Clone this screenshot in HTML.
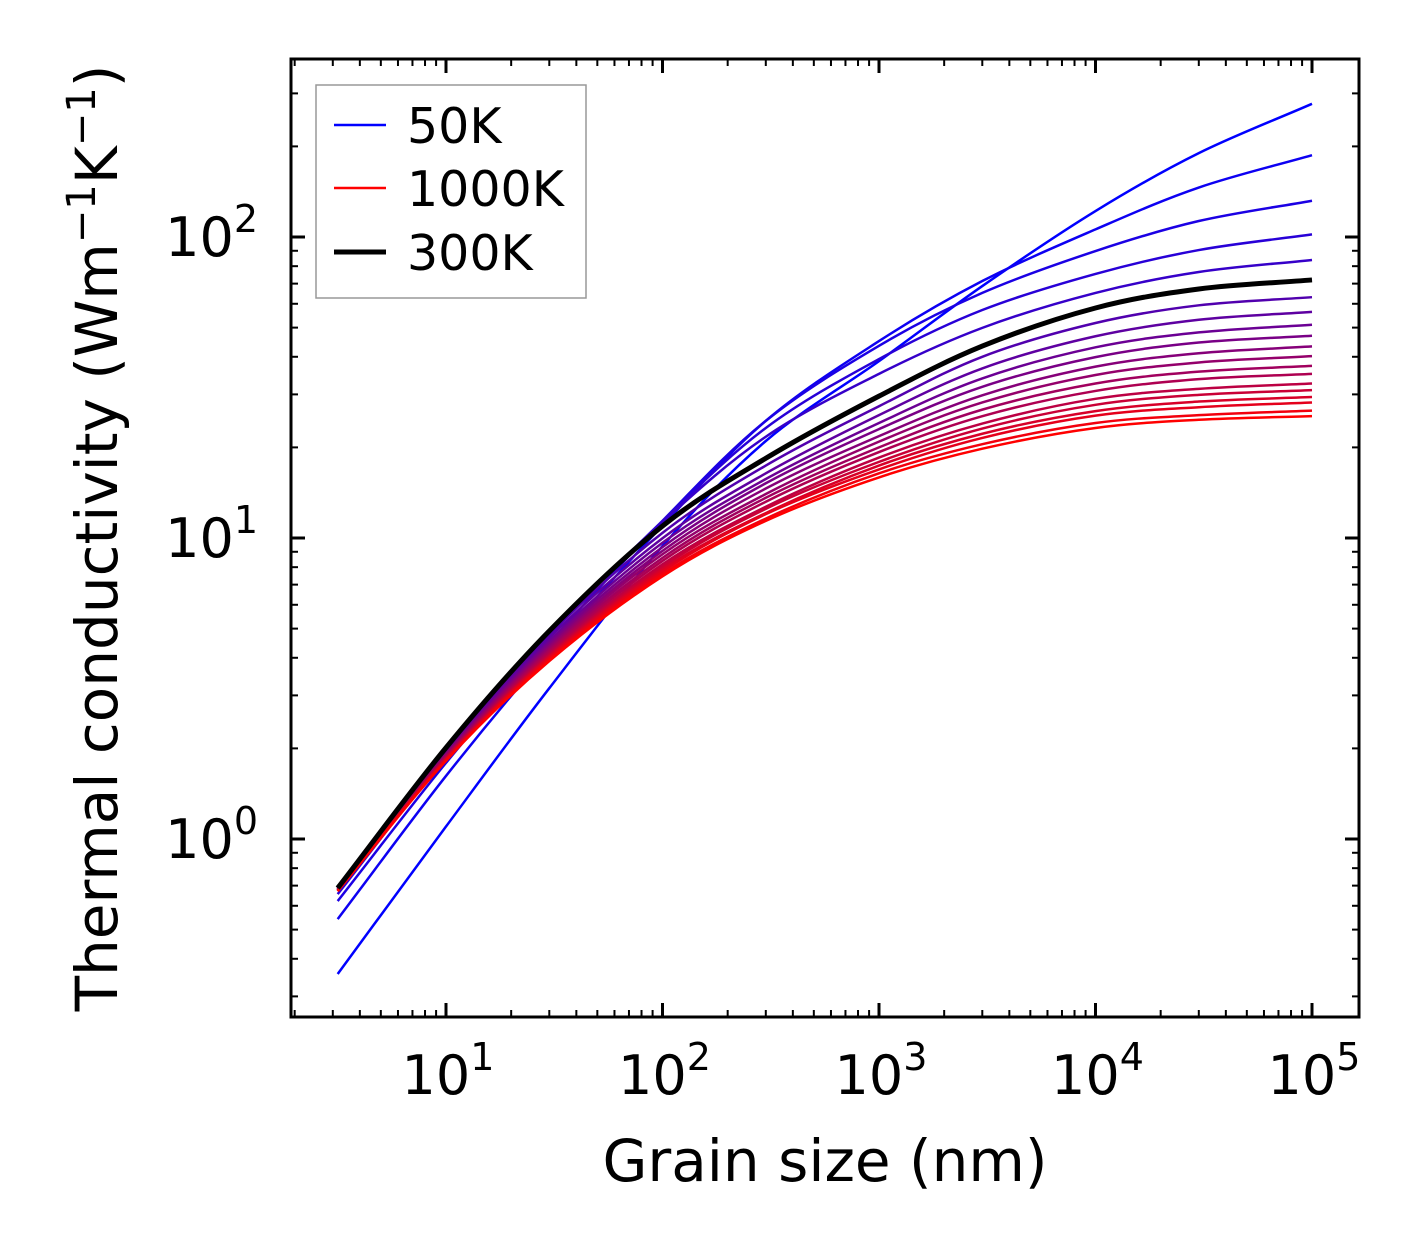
<!DOCTYPE html>
<html><head><meta charset="utf-8"><style>
html,body{margin:0;padding:0;background:#fff;}
svg{display:block;font-family:"DejaVu Sans","Liberation Sans",sans-serif;}
</style></head><body>
<svg id="chart" width="1421" height="1254" viewBox="0 0 1421 1254" xmlns="http://www.w3.org/2000/svg">
<rect x="0" y="0" width="1421" height="1254" fill="#fff"/>
<g id="curves"></g>
<g id="ticks"></g>
<rect x="291" y="59" width="1068" height="958" fill="none" stroke="#000" stroke-width="3"/>
<g id="labels" font-size="54"></g>
<text x="825" y="1181" font-size="58" text-anchor="middle">Grain size (nm)</text>
<text transform="translate(117,538) rotate(-90)" font-size="58" text-anchor="middle">Thermal conductivity (Wm<tspan dy="-22" font-size="40">−1</tspan><tspan dy="22">K</tspan><tspan dy="-22" font-size="40">−1</tspan><tspan dy="22">)</tspan></text>
<g>
<rect x="316" y="85" width="270" height="213" fill="#fff" stroke="#999" stroke-width="1.5"/>
<line x1="334" y1="125" x2="386" y2="125" stroke="rgb(0,0,255)" stroke-width="2.5"/>
<text x="407" y="143" font-size="49">50K</text>
<line x1="334" y1="188" x2="386" y2="188" stroke="rgb(255,0,0)" stroke-width="2.5"/>
<text x="407" y="206" font-size="49">1000K</text>
<line x1="334" y1="252" x2="386" y2="252" stroke="#000" stroke-width="5"/>
<text x="407" y="270" font-size="49">300K</text>
</g>
</svg>
<script>
const grainSizes = [3.16, 10, 30, 100, 300, 1000, 3000, 10000, 30000, 100000];
const temperatures = [50,100,150,200,250,300,350,400,450,500,550,600,650,700,750,800,850,900,950,1000];
const k50 = [0.356,1.10,3.17,9.40,21.0,38.7,68.7,122,190,277];
const k100 = [0.542,1.62,4.21,11.0,24.5,45.1,71.4,106,146,187];
const k150 = [0.622,1.79,4.48,11.4,24.5,43.5,65.2,89.8,113,132];
const k200 = [0.656,1.89,4.73,11.4,23.2,39.3,57.2,75.4,90.5,102];
const k250 = [0.677,1.96,4.83,11.3,21.7,35.1,49.9,65.2,76.5,83.9];
const k300 = [0.687,2.01,4.91,10.96,18.4,29.6,43.4,58.1,67.2,72.0];
const k350 = [0.685,1.98,4.77,10.4,17.4,27.4,40.0,51.8,59.3,63.1];
const k400 = [0.684,1.96,4.66,9.98,16.4,25.6,36.6,46.8,53.1,56.4];
const k450 = [0.682,1.94,4.55,9.64,15.7,24.1,33.9,43.0,48.2,51.1];
const k500 = [0.681,1.92,4.47,9.33,15.2,23.0,31.8,39.9,44.6,47.0];
const k550 = [0.679,1.91,4.39,9.06,14.6,21.8,29.8,37.1,41.1,43.3];
const k600 = [0.678,1.90,4.32,8.83,14.0,20.9,28.2,34.8,38.3,40.2];
const k650 = [0.678,1.88,4.25,8.59,13.6,20.0,26.7,32.6,35.7,37.3];
const k700 = [0.676,1.87,4.19,8.39,13.2,19.3,25.4,30.8,33.7,35.1];
const k750 = [0.675,1.86,4.12,8.18,12.7,18.5,24.0,29.0,31.3,32.6];
const k800 = [0.675,1.85,4.07,8.02,12.5,17.9,23.1,27.7,29.9,31.0];
const k850 = [0.673,1.84,4.03,7.87,12.1,17.4,22.2,26.4,28.4,29.4];
const k900 = [0.673,1.83,3.99,7.74,12.0,16.9,21.5,25.5,27.2,28.2];
const k950 = [0.671,1.82,3.94,7.59,11.6,16.4,20.5,24.1,25.6,26.5];
const k1000 = [0.671,1.82,3.90,7.46,11.4,15.9,19.8,23.2,24.7,25.4];
const series = [k50,k100,k150,k200,k250,k300,k350,k400,k450,k500,k550,k600,k650,k700,k750,k800,k850,k900,k950,k1000];
const highlightTemp = 300;
const xTickExps = [1,2,3,4,5];
const yTickExps = [0,1,2];

const NS = "http://www.w3.org/2000/svg";
const X0 = 446, XD = 216.5, Y0 = 839, YD = 301;
const PL = 291, PR = 1359, PT = 59, PB = 1017;
function sx(v){ return X0 + (Math.log10(v) - 1) * XD; }
function sy(v){ return Y0 - Math.log10(v) * YD; }
function mk(tag, attrs){ const e = document.createElementNS(NS, tag); for (const k in attrs) e.setAttribute(k, attrs[k]); return e; }

// Catmull-Rom smoothing through the data points (log-log space)
function pathFor(vals){
  const p = grainSizes.map((g,i)=>[sx(g), sy(vals[i])]);
  const n = p.length;
  let s = "M" + p[0][0].toFixed(2) + "," + p[0][1].toFixed(2);
  for (let i=0;i<n-1;i++){
    const p0 = i>0 ? p[i-1] : [2*p[0][0]-p[1][0], 2*p[0][1]-p[1][1]];
    const p1 = p[i], p2 = p[i+1];
    const p3 = i+2<n ? p[i+2] : [2*p[n-1][0]-p[n-2][0], 2*p[n-1][1]-p[n-2][1]];
    const c1x = p1[0] + (p2[0]-p0[0])/6, c1y = p1[1] + (p2[1]-p0[1])/6;
    const c2x = p2[0] - (p3[0]-p1[0])/6, c2y = p2[1] - (p3[1]-p1[1])/6;
    s += " C" + c1x.toFixed(2)+","+c1y.toFixed(2)+" "+c2x.toFixed(2)+","+c2y.toFixed(2)+" "+p2[0].toFixed(2)+","+p2[1].toFixed(2);
  }
  return s;
}

const cg = document.getElementById("curves");
series.forEach((vals, i) => {
  const t = i/(series.length-1);
  const col = "rgb(" + Math.round(255*t) + ",0," + Math.round(255*(1-t)) + ")";
  const el = mk("path", {d: pathFor(vals), fill:"none", stroke: col, "stroke-width": 2.5});
  
  
  cg.appendChild(el);
});
const hi = series[temperatures.indexOf(highlightTemp)];
const hel = mk("path", {d: pathFor(hi), fill:"none", stroke:"#000", "stroke-width": 5});


cg.appendChild(hel);

const tg = document.getElementById("ticks");
function tick(x1,y1,x2,y2,w,name){
  const l = mk("line",{x1,y1,x2,y2,stroke:"#000","stroke-width":w});
  
  
  tg.appendChild(l);
}
for (let e=0;e<=5;e++){
  for (let m=1;m<=9;m++){
    const v = m*Math.pow(10,e); const x = sx(v);
    if (x < PL+1 || x > PR-1) continue;
    const len = m===1?14:7, w = m===1?3:2;
    tick(x,PB,x,PB-len,w,'x-tick');
    tick(x,PT,x,PT+len,w,'x-tick-top');
  }
}
for (let e=-1;e<=2;e++){
  for (let m=1;m<=9;m++){
    const v = m*Math.pow(10,e); const y = sy(v);
    if (y < PT+1 || y > PB-1) continue;
    const len = m===1?14:7, w = m===1?3:2;
    tick(PL,y,PL+len,y,w,'y-tick');
    tick(PR,y,PR-len,y,w,'y-tick-right');
  }
}
const lg = document.getElementById("labels");
xTickExps.forEach(e=>{
  const x = sx(Math.pow(10,e));
  const t = mk("text",{x:x+2, y:1094, "text-anchor":"middle"});
  t.innerHTML = '10<tspan dy="-24" font-size="38">'+e+'</tspan>';
  
  
  lg.appendChild(t);
});
yTickExps.forEach(e=>{
  const y = sy(Math.pow(10,e));
  const t = mk("text",{x:258, y:y+19, "text-anchor":"end"});
  t.innerHTML = '10<tspan dy="-24" font-size="38">'+e+'</tspan>';
  
  
  lg.appendChild(t);
});
</script>
</body></html>
